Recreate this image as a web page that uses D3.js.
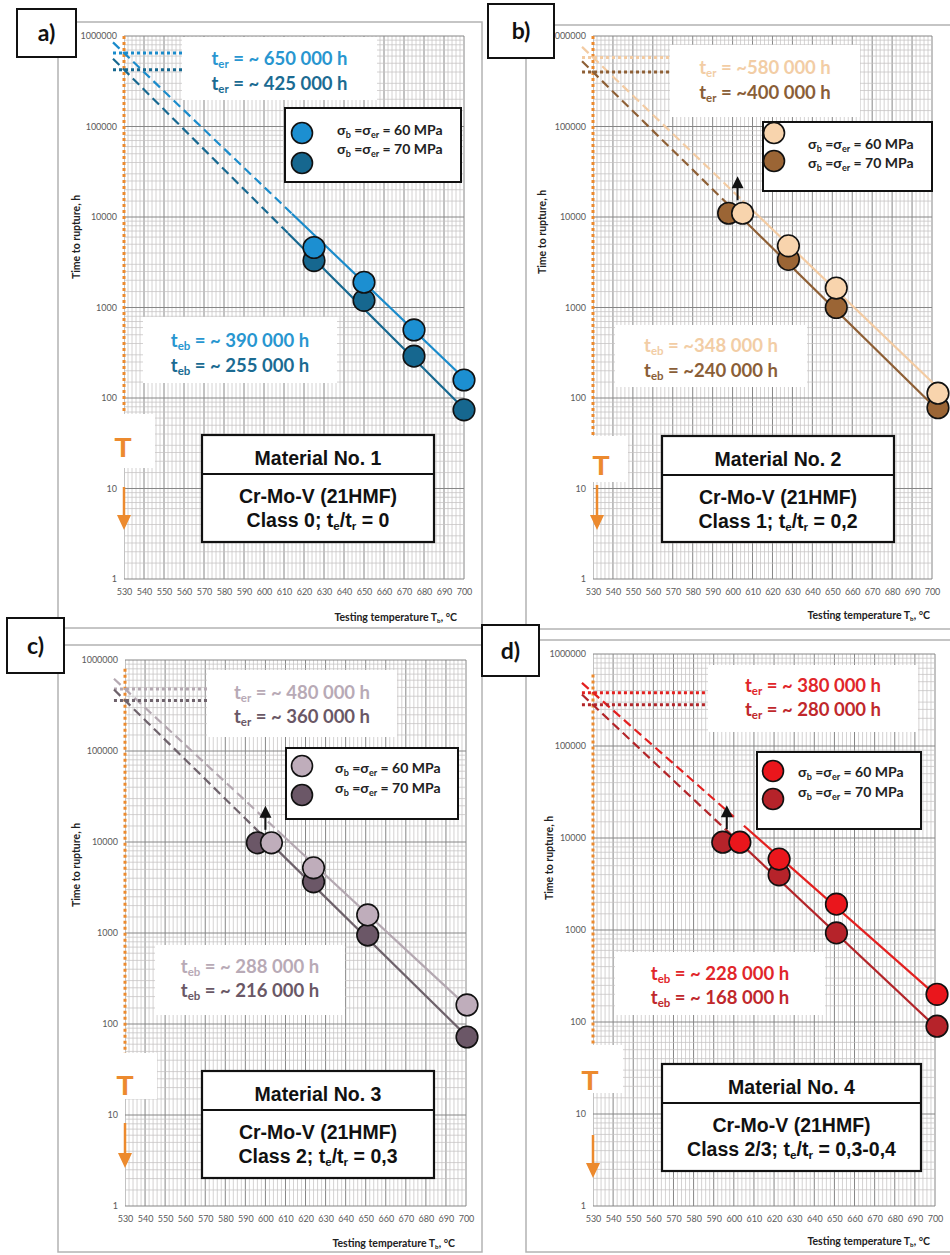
<!DOCTYPE html>
<html>
<head>
<meta charset="utf-8">
<script src="https://cdn.jsdelivr.net/npm/d3@7"></script>
<style>
  body { margin: 0; background: #fff; }
  svg { display: block; }
  text { white-space: pre; }
</style>
</head>
<body>
<svg id="fig" width="950" height="1255"></svg>
<script>
// ---------------- data ----------------
const panelTags = ["a)", "b)", "c)", "d)"];
const materialTitles = ["Material No. 1", "Material No. 2", "Material No. 3", "Material No. 4"];
const steelGrade = "Cr-Mo-V (21HMF)";
const classNames = ["Class 0", "Class 1", "Class 2", "Class 2/3"];
const ratioValues = ["0", "0,2", "0,3", "0,3-0,4"];
const stressLevels = [60, 70]; // MPa

const tempTicks = [530, 540, 550, 560, 570, 580, 590, 600, 610, 620, 630, 640, 650, 660, 670, 680, 690, 700];
const timeTicks = [1, 10, 100, 1000, 10000, 100000, 1000000];

// creep tests at 60 MPa: temperature (°C) and time to rupture (h)
const temp60 = [[625, 650, 675, 700], [605, 628, 652, 703], [603, 624, 651, 700.5], [603, 622.5, 651, 701]];
const time60 = [[4600, 1900, 565, 158], [11000, 4800, 1640, 113], [9800, 5200, 1580, 162], [9000, 5900, 1910, 200]];
// creep tests at 70 MPa
const temp70 = [[625, 650, 675, 700], [598, 628, 652, 703], [596, 624, 651, 700.5], [594.5, 622.5, 651, 701]];
const time70 = [[3300, 1200, 290, 74], [11000, 3400, 1000, 78], [9800, 3650, 950, 72], [9000, 3980, 930, 90]];

// extrapolated time to rupture at 530 °C (t_er) and trend value at 700 °C
const ter60 = [650000, 580000, 480000, 380000];
const ter70 = [425000, 400000, 360000, 280000];
const end60 = [165, 150, 160, 200];
const end70 = [76, 85, 75, 90];
// t_eb estimates
const teb60 = [390000, 348000, 288000, 228000];
const teb70 = [255000, 240000, 216000, 168000];

// where the trend lines change from dashed (extrapolation) to solid
const dashTo60 = [614, 605, 606, 600];
const solidFrom60 = [614, 605, 606, 605];
const dashTo70 = [612, 598, 597, 596];
const solidFrom70 = [612, 598, 597, 596];

// tests still running (arrow upwards)
const runoutTemp = [null, 602.5, 600, 596.5];

// colours
const fill60 = ["#1c8fd1", "#f8d4ad", "#bfadbb", "#ea161c"];
const fill70 = ["#16678f", "#9b6535", "#6b5767", "#b6232a"];
const line60 = ["#1a8bcb", "#f3cba2", "#b4a8b1", "#e3201f"];
const line70 = ["#176890", "#8e5f35", "#6e626b", "#b32529"];
const text60 = ["#2896d0", "#f2cda5", "#b8aab6", "#e1262a"];
const text70 = ["#1b6b92", "#8a5e37", "#6a5866", "#c0282c"];
const orange = "#ec8a2e";
const tildeGap = [" ", "", " ", " "];

// ---------------- layout ----------------
const layout = [
  { frame: [58, 22, 482, 628], tag: [17, 9, 59, 48], plot: [124, 464, 36, 579], yTitle: [76, 237], xTitle: [457, 621],
    ter: [182, 37, 195, 63], terBase: [65, 90], teb: [143, 317, 194, 66], tebBase: [347, 372],
    leg: [285, 108, 176, 74], legCx: 302, legCy: [133, 163], legTx: 337, legBase: [135, 154],
    mat: [202, 435, 232, 107], tBox: [110, 414, 45, 54], tCx: 123, tBase: 457, arrX: 124, arrY: [487, 530], oTop: 1e6 },
  { frame: [526, 25, 952, 629], tag: [488, 4, 66, 54], plot: [593, 932, 36, 579], yTitle: [542, 232], xTitle: [930, 619],
    ter: [670, 45, 190, 72], terBase: [74, 99], teb: [615, 325, 192, 62], tebBase: [352, 377],
    leg: [763, 122, 169, 69], legCx: 774, legCy: [133, 161], legTx: 808, legBase: [149, 168],
    mat: [662, 436, 232, 106], tBox: [585, 436, 43, 46], tCx: 601, tBase: 475, arrX: 597, arrY: [485, 530], oTop: 1e6 },
  { frame: [58, 645, 482, 1252], tag: [7, 618, 57, 55], plot: [125, 466, 660, 1206], yTitle: [76, 865], xTitle: [455, 1247],
    ter: [207, 670, 190, 67], terBase: [699, 723], teb: [155, 945, 190, 70], tebBase: [973, 997],
    leg: [286, 748, 172, 71], legCx: 302, legCy: [766, 795], legTx: 335, legBase: [773, 793],
    mat: [202, 1071, 232, 107], tBox: [113, 1053, 44, 46], tCx: 125, tBase: 1095, arrX: 125, arrY: [1123, 1168], oTop: 8e5 },
  { frame: [526, 640, 952, 1252], tag: [482, 625, 57, 51], plot: [593, 935, 654, 1206], yTitle: [549, 858], xTitle: [930, 1245],
    ter: [708, 665, 210, 67], terBase: [692, 716], teb: [615, 952, 210, 63], tebBase: [980, 1004],
    leg: [757, 752, 164, 77], legCx: 773, legCy: [771, 799], legTx: 798, legBase: [777, 797],
    mat: [662, 1064, 259, 107], tBox: [572, 1045, 51, 48], tCx: 590, tBase: 1090, arrX: 593, arrY: [1135, 1178], oTop: 6e5 }
];

const svg = d3.select("#fig");
const fmt = d3.formatLocale({ decimal: ",", thousands: " ", grouping: [3], currency: ["", ""] }).format(",d");
const CAL = "Lato, 'Open Sans', sans-serif";
const ARIAL = "'Liberation Sans', Arial, sans-serif";

// text with subscripts: parts are strings or {sub: "..."}
function richText(sel, parts, size, subScale, subDy) {
  let down = false;
  parts.forEach(p => {
    const isSub = typeof p !== "string";
    const ts = sel.append("tspan").text(isSub ? p.sub : p);
    if (isSub) {
      ts.attr("font-size", size * subScale);
      if (!down) { ts.attr("dy", subDy); down = true; }
    } else {
      ts.attr("font-size", size);
      if (down) { ts.attr("dy", -subDy); down = false; }
    }
  });
  return sel;
}

function box(g, r, stroke, sw) {
  return g.append("rect").attr("x", r[0]).attr("y", r[1]).attr("width", r[2]).attr("height", r[3])
    .attr("fill", "#fff").attr("stroke", stroke).attr("stroke-width", sw);
}

function drawPanel(i) {
  const L = layout[i];
  const [x0, x1, yT, yB] = L.plot;
  const x = d3.scaleLinear().domain([530, 700]).range([x0, x1]);
  const y = d3.scaleLog().domain([1, 1e6]).range([yB, yT]);
  const P = svg.append("g");

  // panel frame
  const [fx0, fy0, fx1, fy1] = L.frame;
  P.append("rect").attr("x", fx0).attr("y", fy0).attr("width", fx1 - fx0).attr("height", fy1 - fy0)
    .attr("fill", "#fff").attr("stroke", "#b3b3b3").attr("stroke-width", 1.5);

  // grid
  const clipId = "plotclip" + i;
  svg.append("clipPath").attr("id", clipId).append("rect")
    .attr("x", x0).attr("y", yT - 1).attr("width", x1 - x0 + 1).attr("height", yB - yT + 2);
  const G = P.append("g").attr("clip-path", `url(#${clipId})`);
  const minorT = d3.range(530, 701, 2);
  G.selectAll(".vg").data(minorT).join("line")
    .attr("x1", d => x(d)).attr("x2", d => x(d)).attr("y1", yT).attr("y2", yB)
    .attr("stroke", d => d % 10 === 0 ? "#868686" : "#c6c3c3")
    .attr("stroke-width", d => d % 10 === 0 ? 1 : 0.75);
  const minorV = [];
  for (let k = 0; k < 6; k++) for (const m of [1.5, 2, 2.5, 3, 4, 5, 6, 7, 8, 9]) minorV.push(m * Math.pow(10, k));
  G.selectAll(".hg").data(minorV).join("line")
    .attr("x1", x0).attr("x2", x1).attr("y1", d => y(d)).attr("y2", d => y(d))
    .attr("stroke", "#c6c3c3").attr("stroke-width", 0.75);
  G.selectAll(".hm").data(timeTicks).join("line")
    .attr("x1", x0).attr("x2", x1).attr("y1", d => y(d)).attr("y2", d => y(d))
    .attr("stroke", "#868686").attr("stroke-width", 1);

  // axes
  P.append("g").attr("transform", `translate(${x0},0)`)
    .call(d3.axisLeft(y).tickValues(timeTicks).tickFormat(d3.format("d")).tickSize(0).tickPadding(7))
    .call(g => g.select(".domain").remove())
    .selectAll("text").attr("font-family", CAL).attr("font-size", 9).attr("fill", "#5a5a5a");
  P.append("g").attr("transform", `translate(0,${yB})`)
    .call(d3.axisBottom(x).tickValues(tempTicks).tickFormat(d3.format("d")).tickSize(0).tickPadding(10))
    .call(g => g.select(".domain").remove())
    .selectAll("text").attr("font-family", CAL).attr("font-size", 9).attr("fill", "#5a5a5a");

  P.append("text").attr("transform", `translate(${L.yTitle[0]},${L.yTitle[1]}) rotate(-90)`)
    .attr("text-anchor", "middle").attr("dy", "0.35em")
    .attr("font-family", CAL).attr("font-weight", 700).attr("font-size", 10.5).attr("fill", "#222")
    .text("Time to rupture, h");
  richText(P.append("text").attr("x", L.xTitle[0]).attr("y", L.xTitle[1]).attr("text-anchor", "end")
    .attr("font-family", CAL).attr("font-weight", 700).attr("fill", "#222"),
    ["Testing temperature T", { sub: "b" }, ", °C"], 10.5, 0.6, 2);

  // annotation boxes
  box(P, L.ter, "none", 0);
  box(P, L.teb, "none", 0);
  const terVals = [ter60[i], ter70[i]], tebVals = [teb60[i], teb70[i]];
  const tcols = [text60[i], text70[i]];
  [0, 1].forEach(k => {
    richText(P.append("text").attr("x", L.ter[0] + L.ter[2] / 2).attr("y", L.terBase[k])
      .attr("text-anchor", "middle").attr("font-family", CAL).attr("font-weight", 700).attr("fill", tcols[k]),
      ["t", { sub: "er" }, ` = ~${tildeGap[i]}${fmt(terVals[k])} h`], 18.5, 0.62, 3);
    richText(P.append("text").attr("x", L.teb[0] + L.teb[2] / 2).attr("y", L.tebBase[k])
      .attr("text-anchor", "middle").attr("font-family", CAL).attr("font-weight", 700).attr("fill", tcols[k]),
      ["t", { sub: "eb" }, ` = ~${tildeGap[i]}${fmt(tebVals[k])} h`], 18.5, 0.62, 3);
  });

  // temperature limit marker (orange)
  P.append("line").attr("x1", x0).attr("x2", x0).attr("y1", y(L.oTop)).attr("y2", L.tBox[1])
    .attr("stroke", orange).attr("stroke-width", 3).attr("stroke-dasharray", "3,3");
  box(P, L.tBox, "none", 0);
  P.append("text").attr("x", L.tCx).attr("y", L.tBase).attr("text-anchor", "middle")
    .attr("font-family", ARIAL).attr("font-weight", 700).attr("font-size", 28).attr("fill", orange).text("T");
  P.append("line").attr("x1", L.arrX).attr("x2", L.arrX).attr("y1", L.arrY[0]).attr("y2", L.arrY[1] - 12)
    .attr("stroke", orange).attr("stroke-width", 2.5);
  P.append("path").attr("d", `M${L.arrX - 7},${L.arrY[1] - 15}L${L.arrX + 7},${L.arrY[1] - 15}L${L.arrX},${L.arrY[1]}Z`)
    .attr("fill", orange);

  // trend lines
  const series = [
    { ter: ter60[i], end: end60[i], dashTo: dashTo60[i], solidFrom: solidFrom60[i], last: d3.max(temp60[i]), col: line60[i] },
    { ter: ter70[i], end: end70[i], dashTo: dashTo70[i], solidFrom: solidFrom70[i], last: d3.max(temp70[i]), col: line70[i] }
  ];
  series.forEach(s => {
    const fit = T => Math.pow(10, Math.log10(s.ter) + (T - 530) / 170 * (Math.log10(s.end) - Math.log10(s.ter)));
    // dotted level of t_er
    P.append("line").attr("x1", x(524.5)).attr("x2", L.ter[0]).attr("y1", y(s.ter)).attr("y2", y(s.ter))
      .attr("stroke", s.col).attr("stroke-width", 3).attr("stroke-dasharray", "3,3");
    P.append("line").attr("x1", x(524.5)).attr("y1", y(fit(524.5))).attr("x2", x(s.dashTo)).attr("y2", y(fit(s.dashTo)))
      .attr("stroke", s.col).attr("stroke-width", 2.2).attr("stroke-dasharray", "9,5");
    P.append("line").attr("x1", x(s.solidFrom)).attr("y1", y(fit(s.solidFrom))).attr("x2", x(s.last)).attr("y2", y(fit(s.last)))
      .attr("stroke", s.col).attr("stroke-width", 2.2);
  });

  // test points (70 MPa underneath, 60 MPa on top)
  P.selectAll(".p70").data(d3.zip(temp70[i], time70[i])).join("circle")
    .attr("cx", d => x(d[0])).attr("cy", d => y(d[1])).attr("r", 10.8)
    .attr("fill", fill70[i]).attr("stroke", "#111").attr("stroke-width", 1.6);
  P.selectAll(".p60").data(d3.zip(temp60[i], time60[i])).join("circle")
    .attr("cx", d => x(d[0])).attr("cy", d => y(d[1])).attr("r", 10.8)
    .attr("fill", fill60[i]).attr("stroke", "#111").attr("stroke-width", 1.6);

  // run-out arrow
  if (runoutTemp[i] !== null) {
    const ax = x(runoutTemp[i]);
    const ay = y(time60[i][0]) - 13;
    P.append("line").attr("x1", ax).attr("x2", ax).attr("y1", ay).attr("y2", ay - 14)
      .attr("stroke", "#111").attr("stroke-width", 2);
    P.append("path").attr("d", `M${ax - 6},${ay - 12}L${ax + 6},${ay - 12}L${ax},${ay - 24}Z`).attr("fill", "#111");
  }

  // legend
  box(P, L.leg, "#111", 2);
  const fills = [fill60[i], fill70[i]];
  [0, 1].forEach(k => {
    P.append("circle").attr("cx", L.legCx).attr("cy", L.legCy[k]).attr("r", 10.5)
      .attr("fill", fills[k]).attr("stroke", "#111").attr("stroke-width", 1.6);
    richText(P.append("text").attr("x", L.legTx).attr("y", L.legBase[k])
      .attr("font-family", CAL).attr("font-weight", 700).attr("fill", "#222"),
      ["σ", { sub: "b" }, " =σ", { sub: "er" }, ` = ${stressLevels[k]} MPa`], 14, 0.65, 2.5);
  });

  // material description
  const M = L.mat;
  box(P, M, "#111", 2.2);
  P.append("line").attr("x1", M[0]).attr("x2", M[0] + M[2]).attr("y1", M[1] + 39).attr("y2", M[1] + 39)
    .attr("stroke", "#111").attr("stroke-width", 2.2);
  const mcx = M[0] + M[2] / 2;
  P.append("text").attr("x", mcx).attr("y", M[1] + 30).attr("text-anchor", "middle")
    .attr("font-family", ARIAL).attr("font-weight", 700).attr("font-size", 19.5).attr("fill", "#111")
    .text(materialTitles[i]);
  P.append("text").attr("x", mcx).attr("y", M[1] + 68).attr("text-anchor", "middle")
    .attr("font-family", ARIAL).attr("font-weight", 700).attr("font-size", 19.5).attr("fill", "#111")
    .text(steelGrade);
  richText(P.append("text").attr("x", mcx).attr("y", M[1] + 92).attr("text-anchor", "middle")
    .attr("font-family", ARIAL).attr("font-weight", 700).attr("fill", "#111"),
    [`${classNames[i]}; t`, { sub: "e" }, "/t", { sub: "r" }, ` = ${ratioValues[i]}`], 19.5, 0.6, 3);

  // panel tag
  box(P, L.tag, "#111", 2);
  P.append("text").attr("x", L.tag[0] + L.tag[2] / 2).attr("y", L.tag[1] + L.tag[3] / 2).attr("dy", "0.35em")
    .attr("text-anchor", "middle").attr("font-family", CAL).attr("font-weight", 700).attr("font-size", 23)
    .attr("fill", "#111").text(panelTags[i]);
}

[0, 1, 2, 3].forEach(drawPanel);
</script>
</body>
</html>
